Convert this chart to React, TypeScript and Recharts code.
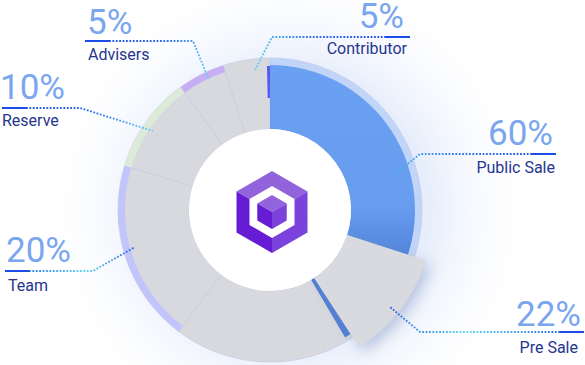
import React from 'react'
import { PieChart, Pie, Cell } from 'recharts'

// token allocation slices, clockwise from 12 o'clock
const slices = ['Public Sale', 'Pre Sale', 'Unlabelled', 'Team', 'Reserve', 'Advisers', 'Contributor']
// share of the ring each slice takes in the picture (degrees)
const sliceArc = [108, 39, 70, 70, 37, 18, 18]
// percentages printed next to the slices
const percents = ['60%', '22%', '', '20%', '10%', '5%', '5%']

const W = 585
const H = 365
const CX = 270
const CY = 210
const GRAY = '#d8d9de'

const data = slices.map((name, i) => ({ name, value: sliceArc[i] }))

const baseFill = ['#c1d5f8', 'transparent', GRAY, GRAY, GRAY, GRAY, GRAY]
const ringFill = ['transparent', 'transparent', 'transparent', '#c2c5fb', '#dcebd9', '#c6aef4', 'transparent']
const bodyFill = ['url(#publicBlue)', 'transparent', 'transparent', 'transparent', 'transparent', 'transparent', 'transparent']
const edgeFill = ['transparent', '#4d7ed4', 'transparent', 'transparent', 'transparent', 'transparent', 'transparent']
const stripFill = ['#5a58f0', 'transparent', 'transparent', 'transparent', 'transparent', 'transparent', 'transparent']
const preFill = ['transparent', '#d9dadf', 'transparent', 'transparent', 'transparent', 'transparent', 'transparent']

const labelLayout = [
  { i: 0, anchor: 'end', x: 553, pctY: 145, nameX: 555, nameY: 173, path: [[556, 154], [420, 154], [390, 178]], mid: '#3b7cf0', end: '#4fb8f0' },
  { i: 1, anchor: 'end', x: 581, pctY: 326, nameX: 578, nameY: 353, path: [[584, 332], [420, 332], [390, 307]], mid: '#5fd6f2', end: '#2a5fe0' },
  { i: 3, anchor: 'start', x: 6, pctY: 262, nameX: 8, nameY: 291, path: [[5, 271], [93, 271], [135, 247]], mid: '#5fd6f2', end: '#2a5fe0' },
  { i: 4, anchor: 'start', x: 0, pctY: 99, nameX: 2, nameY: 126, path: [[2, 108], [80, 108], [153, 131]], mid: '#2f6ae8', end: '#5fd6f2' },
  { i: 5, anchor: 'start', x: 87, pctY: 34, nameX: 88, nameY: 60, path: [[85, 41], [193, 41], [209, 80]], mid: '#2f6ae8', end: '#5fd6f2' },
  { i: 6, anchor: 'end', x: 404, pctY: 28, nameX: 407, nameY: 54, path: [[410, 37], [272, 37], [255, 70]], mid: '#2f6ae8', end: '#5fd6f2' },
]

function hex(cx: number, cy: number, r: number) {
  const pts = []
  for (let k = 0; k < 6; k++) {
    const a = (Math.PI / 180) * (-90 + k * 60)
    pts.push([cx + r * Math.cos(a), cy + r * Math.sin(a)])
  }
  return pts
}

function Cube({ cx, cy, r, hole }: { cx: number; cy: number; r: number; hole?: number }) {
  const p = hex(cx, cy, r)
  const s = (arr: number[][]) => arr.map(q => q.join(',')).join(' ')
  const c = [cx, cy]
  return (
    <g>
      <polygon points={s([p[0], p[1], c, p[5]])} fill="#9264db" />
      <polygon points={s([p[1], p[2], p[3], c])} fill="#7b42dc" />
      <polygon points={s([p[3], p[4], p[5], c])} fill="#661cd4" />
      {hole ? <polygon points={s(hex(cx, cy, hole))} fill="#fff" /> : null}
    </g>
  )
}

function layer(fills: string[], inner: number, outer: number, rot = 0, extra: any = {}) {
  return (
    <Pie
      data={data}
      dataKey="value"
      nameKey="name"
      cx={CX}
      cy={CY}
      innerRadius={inner}
      outerRadius={outer}
      startAngle={90 + rot}
      endAngle={-270 + rot}
      stroke="none"
      isAnimationActive={false}
      label={false}
      labelLine={false}
      {...extra}
    >
      {fills.map((f, i) => (
        <Cell key={i} fill={f} />
      ))}
    </Pie>
  )
}

export default function App() {
  return (
    <div style={{ position: 'absolute', left: 0, top: 0, width: W, height: H, background: '#fff', fontFamily: 'Roboto, sans-serif' }}>
      <svg width={W} height={H} style={{ position: 'absolute', left: 0, top: 0 }}>
        <defs>
          <radialGradient id="glow" cx={CX + 20} cy={CY} r={250} gradientUnits="userSpaceOnUse">
            <stop offset="0.55" stopColor="#e6edfb" stopOpacity="1" />
            <stop offset="1" stopColor="#ffffff" stopOpacity="0" />
          </radialGradient>
        </defs>
        <circle cx={CX + 20} cy={CY} r={250} fill="url(#glow)" />
      </svg>
      <div style={{ position: 'absolute', left: 0, top: 0 }}>
        <PieChart width={W} height={H} margin={{ top: 0, right: 0, bottom: 0, left: 0 }}>
          <defs>
            <linearGradient id="publicBlue" x1="0" y1="0" x2="0" y2="1">
              <stop offset="0" stopColor="#6aa0f1" />
              <stop offset="0.75" stopColor="#679cef" />
              <stop offset="1" stopColor="#5185da" />
            </linearGradient>
            <filter id="preShadow" x="-30%" y="-30%" width="160%" height="160%">
              <feDropShadow dx="5" dy="5" stdDeviation="7" floodColor="#7f93bd" floodOpacity="0.45" />
            </filter>
          </defs>
          {layer(baseFill, 81, 152, 0, { stroke: '#c4c6e4', strokeWidth: 0.6 })}
          {layer(ringFill, 145, 152)}
          {layer(stripFill, 112, 144, 1.2)}
          {layer(bodyFill, 81, 145)}
          {layer(edgeFill, 81, 148, -2.5)}
          <Pie
            data={data}
            dataKey="value"
            nameKey="name"
            cx={CX}
            cy={CY}
            innerRadius={81}
            outerRadius={164}
            startAngle={90}
            endAngle={-270}
            stroke="none"
            isAnimationActive={false}
            label={false}
            labelLine={false}
          >
            {preFill.map((f, i) => (
              <Cell key={i} fill={f} filter={i === 1 ? 'url(#preShadow)' : undefined} />
            ))}
          </Pie>
          {layer(['#fff', '#fff', '#fff', '#fff', '#fff', '#fff', '#fff'], 0, 81)}
        </PieChart>
      </div>
      <svg width={W} height={H} style={{ position: 'absolute', left: 0, top: 0 }}>
        <defs>
          {labelLayout.map(l => {
            const a = l.path[0]
            const b = l.path[2]
            return (
              <linearGradient key={l.i} id={`lg${l.i}`} gradientUnits="userSpaceOnUse" x1={a[0]} y1={a[1]} x2={b[0]} y2={b[1]}>
                <stop offset="0" stopColor="#1b4ee8" />
                <stop offset="0.6" stopColor={l.mid} />
                <stop offset="1" stopColor={l.end} />
              </linearGradient>
            )
          })}
        </defs>
        {labelLayout.map(l => {
          const [a, m, b] = l.path
          const dir = m[0] > a[0] ? 1 : -1
          return (
            <g key={l.i}>
              <line x1={a[0]} y1={a[1]} x2={a[0] + dir * 24} y2={a[1]} stroke="#1b4ee8" strokeWidth={2} />
              <polyline
                points={`${a[0] + dir * 24},${a[1]} ${m[0]},${m[1]} ${b[0]},${b[1]}`}
                fill="none"
                stroke={`url(#lg${l.i})`}
                strokeWidth={1.8}
                strokeDasharray="1.8 1.6"
              />
              <text x={l.x} y={l.pctY} textAnchor={l.anchor as any} fontSize={35} fill="#79a6ef">
                {percents[l.i]}
              </text>
              <text x={l.nameX} y={l.nameY} textAnchor={l.anchor as any} fontSize={16} fill="#263590">
                {slices[l.i]}
              </text>
            </g>
          )
        })}
        <Cube cx={272} cy={212} r={41} hole={26} />
        <Cube cx={272} cy={212} r={17} />
      </svg>
    </div>
  )
}
